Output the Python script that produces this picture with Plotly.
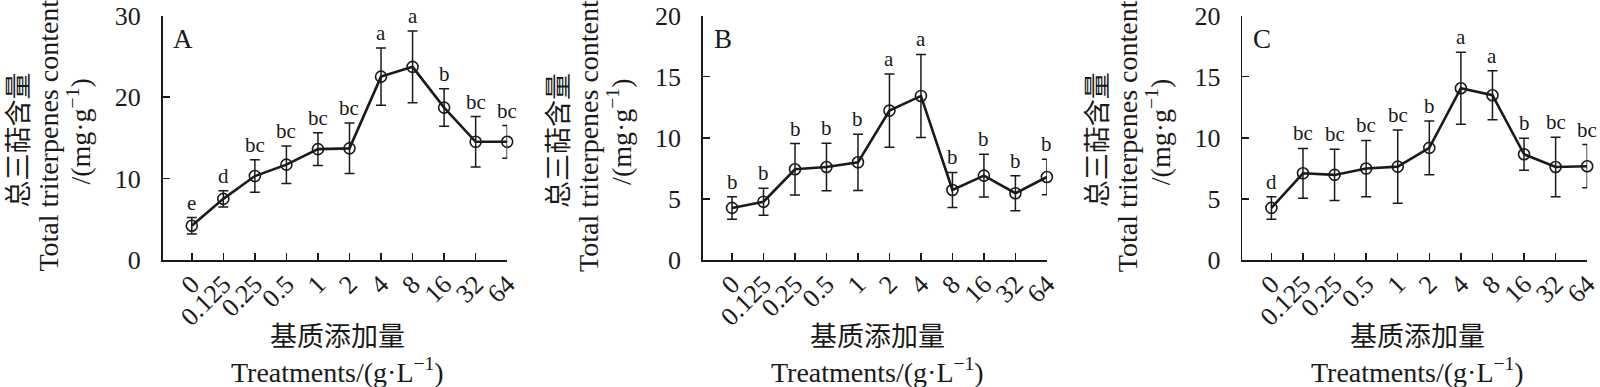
import plotly.graph_objects as go

treatments = ["0", "0.125", "0.25", "0.5", "1", "2", "4", "8", "16", "32", "64"]

a_mean = [4.2, 7.5, 10.3, 11.7, 13.6, 13.7, 22.5, 23.7, 18.7, 14.5, 14.5]
a_err = [1.0, 1.0, 2.0, 2.3, 2.0, 3.1, 3.5, 4.4, 2.3, 3.1, 2.0]
a_letters = ["e", "d", "bc", "bc", "bc", "bc", "a", "a", "b", "bc", "bc"]

b_mean = [4.26, 4.77, 7.42, 7.61, 7.99, 12.22, 13.42, 5.73, 6.9, 5.46, 6.79]
b_err = [0.92, 1.1, 2.1, 1.95, 2.3, 3.0, 3.4, 1.43, 1.75, 1.43, 1.45]
b_letters = ["b", "b", "b", "b", "b", "a", "a", "b", "b", "b", "b"]

c_mean = [4.26, 7.09, 6.96, 7.48, 7.64, 9.17, 14.05, 13.48, 8.65, 7.61, 7.67]
c_err = [0.92, 2.04, 2.1, 2.3, 3.0, 2.2, 2.95, 2.0, 1.3, 2.43, 1.77]
c_letters = ["d", "bc", "bc", "bc", "bc", "b", "a", "a", "b", "bc", "bc"]

panel_names = ["A", "B", "C"]
y_max = [30, 20, 20]
y_dtick = [10, 5, 5]

ytitle_cn = "总三萜含量"
ytitle_en = "Total triterpenes content"
ytitle_unit = "/(mg·g<sup>−1</sup>)"
xtitle_cn = "基质添加量"
xtitle_en = "Treatments/(g·L<sup>−1</sup>)"

W, H = 1600, 387
ax_left_px = [162.6, 702.9, 1242.2]
ax_right_px = [507.2, 1046.9, 1587.2]
y_top_px, y_bot_px = 15.5, 260.0

FONT = "Liberation Serif, Times New Roman, Noto Sans CJK SC, serif"
INK = "#1a1a1a"

fig = go.Figure()
series = [(a_mean, a_err, a_letters), (b_mean, b_err, b_letters), (c_mean, c_err, c_letters)]
xs = list(range(len(treatments)))


def px_x(p):
    return p / W


def px_y(p):
    return 1 - p / H


annotations = []
for i, (m, e, lets) in enumerate(series):
    k = "" if i == 0 else str(i + 1)
    fig.add_trace(go.Scatter(
        x=xs, y=m, mode="lines+markers",
        xaxis="x" + k, yaxis="y" + k,
        line=dict(color=INK, width=2.6),
        marker=dict(symbol="circle-open", size=11, color=INK, line=dict(width=1.6)),
        error_y=dict(type="data", array=e, visible=True, color=INK, thickness=1.5, width=5),
        cliponaxis=False, showlegend=False, hoverinfo="skip",
    ))
    L, R = ax_left_px[i], ax_right_px[i]
    fig.update_layout(**{
        "xaxis" + k: dict(
            domain=[px_x(L), px_x(R)], range=[-0.925, 10], anchor="y" + k,
            tickvals=xs, ticktext=treatments, tickangle=-45, automargin=False,
            ticklabeloverflow="allow",
            ticks="inside", ticklen=7, tickwidth=1.5, tickcolor=INK,
            showline=True, linecolor=INK, linewidth=1.6, showgrid=False, zeroline=False,
            tickfont=dict(family=FONT, size=26, color=INK), ticklabelstandoff=-3,
        ),
        "yaxis" + k: dict(
            domain=[px_y(y_bot_px), px_y(y_top_px)], range=[0, y_max[i]], dtick=y_dtick[i],
            anchor="x" + k, automargin=False, ticklabeloverflow="allow",
            ticks="inside", ticklen=7, tickwidth=1.5, tickcolor=INK,
            showline=True, linecolor=INK, linewidth=1.6, showgrid=False, zeroline=False,
            tickfont=dict(family=FONT, size=26, color=INK), ticklabelstandoff=15,
        ),
    })
    # significance letters
    for j in range(len(xs)):
        annotations.append(dict(
            x=xs[j], y=m[j] + e[j], xref="x" + k, yref="y" + k,
            text=lets[j], showarrow=False, xanchor="center", yanchor="bottom", yshift=1,
            font=dict(family=FONT, size=21, color=INK),
        ))
    # panel label
    annotations.append(dict(
        x=px_x(L + 20), y=px_y(39), xref="paper", yref="paper",
        text=panel_names[i], showarrow=False, xanchor="center", yanchor="middle",
        font=dict(family=FONT, size=27, color=INK),
    ))
    # y title, three columns
    for txt, dx, cy, fs in [(ytitle_cn, -144, 140, 27), (ytitle_en, -115, 136, 28),
                            (ytitle_unit, -83, 132, 28)]:
        annotations.append(dict(
            x=px_x(L + dx), y=px_y(cy), xref="paper", yref="paper",
            text=txt, showarrow=False, textangle=-90, xanchor="center", yanchor="middle",
            font=dict(family=FONT, size=fs, color=INK),
        ))
    # x title, two lines
    cx = (L + R) / 2 + 3
    for txt, cy, fs in [(xtitle_cn, 337, 27), (xtitle_en, 370, 28)]:
        annotations.append(dict(
            x=px_x(cx), y=px_y(cy), xref="paper", yref="paper",
            text=txt, showarrow=False, xanchor="center", yanchor="middle",
            font=dict(family=FONT, size=fs, color=INK),
        ))

fig.update_layout(
    width=W, height=H, margin=dict(l=0, r=0, t=0, b=0, autoexpand=False),
    paper_bgcolor="white", plot_bgcolor="white",
    annotations=annotations, hovermode=False,
)
fig.write_html(
    "out.html",
    config={"displayModeBar": False, "staticPlot": True},
    post_script="document.body.style.margin='0';document.body.style.overflow='hidden';",
)
